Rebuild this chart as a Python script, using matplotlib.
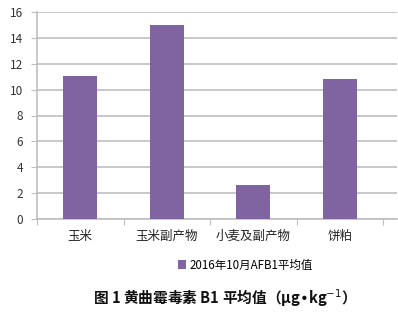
import matplotlib.pyplot as plt
import numpy as np

plt.rcParams['font.family'] = ['Noto Sans CJK SC', 'DejaVu Sans']

# 数据
categories = ['玉米', '玉米副产物', '小麦及副产物', '饼粕']
afb1_avg = [11.05, 15.0, 2.6, 10.8]
series_name = '2016年10月AFB1平均值'
y_ticks = [0, 2, 4, 6, 8, 10, 12, 14, 16]

bar_color = '#8064A2'
grid_color = '#BFBFBF'

fig = plt.figure(figsize=(3.98, 3.17), dpi=100)
ax = fig.add_axes([37 / 398, (317 - 219) / 317, 360 / 398, 207 / 317])

x = np.arange(len(categories))
ax.bar(x, afb1_avg, width=0.39, color=bar_color, zorder=3, label=series_name)

ax.set_ylim(0, 16)
ax.set_xlim(-0.5, 3.66)
ax.set_yticks(y_ticks)
ax.set_yticklabels([str(t) for t in y_ticks], fontsize=8.5, color='#333333')
ax.yaxis.grid(True, color=grid_color, linewidth=1.2, zorder=0)
ax.tick_params(axis='y', length=4, color=grid_color, pad=6)

# 类别刻度在分界处，标签居中
ax.set_xticks(np.arange(-0.5, len(categories), 1.0))
ax.set_xticklabels([])
ax.set_xticks(x, minor=True)
ax.set_xticklabels(categories, minor=True, fontsize=9, color='#222222')
ax.tick_params(axis='x', which='major', length=4, color=grid_color, direction='out')
ax.tick_params(axis='x', which='minor', length=0, pad=8)

for s in ['top', 'right']:
    ax.spines[s].set_visible(False)
for s in ['left', 'bottom']:
    ax.spines[s].set_color(grid_color)
    ax.spines[s].set_linewidth(1.2)

leg = fig.legend(loc='center', bbox_to_anchor=(245 / 398, 1 - 265 / 317),
                 frameon=False, fontsize=8.3, handlelength=0.7, handleheight=0.7,
                 handletextpad=0.3)

fig.text(221 / 398, 1 - 298 / 317, '图 1 黄曲霉毒素 B1 平均值（μg•kg$^{-1}$）',
         ha='center', va='center', fontsize=10.6, fontweight='bold', color='#111111')

fig.savefig('out.png', dpi=100)
